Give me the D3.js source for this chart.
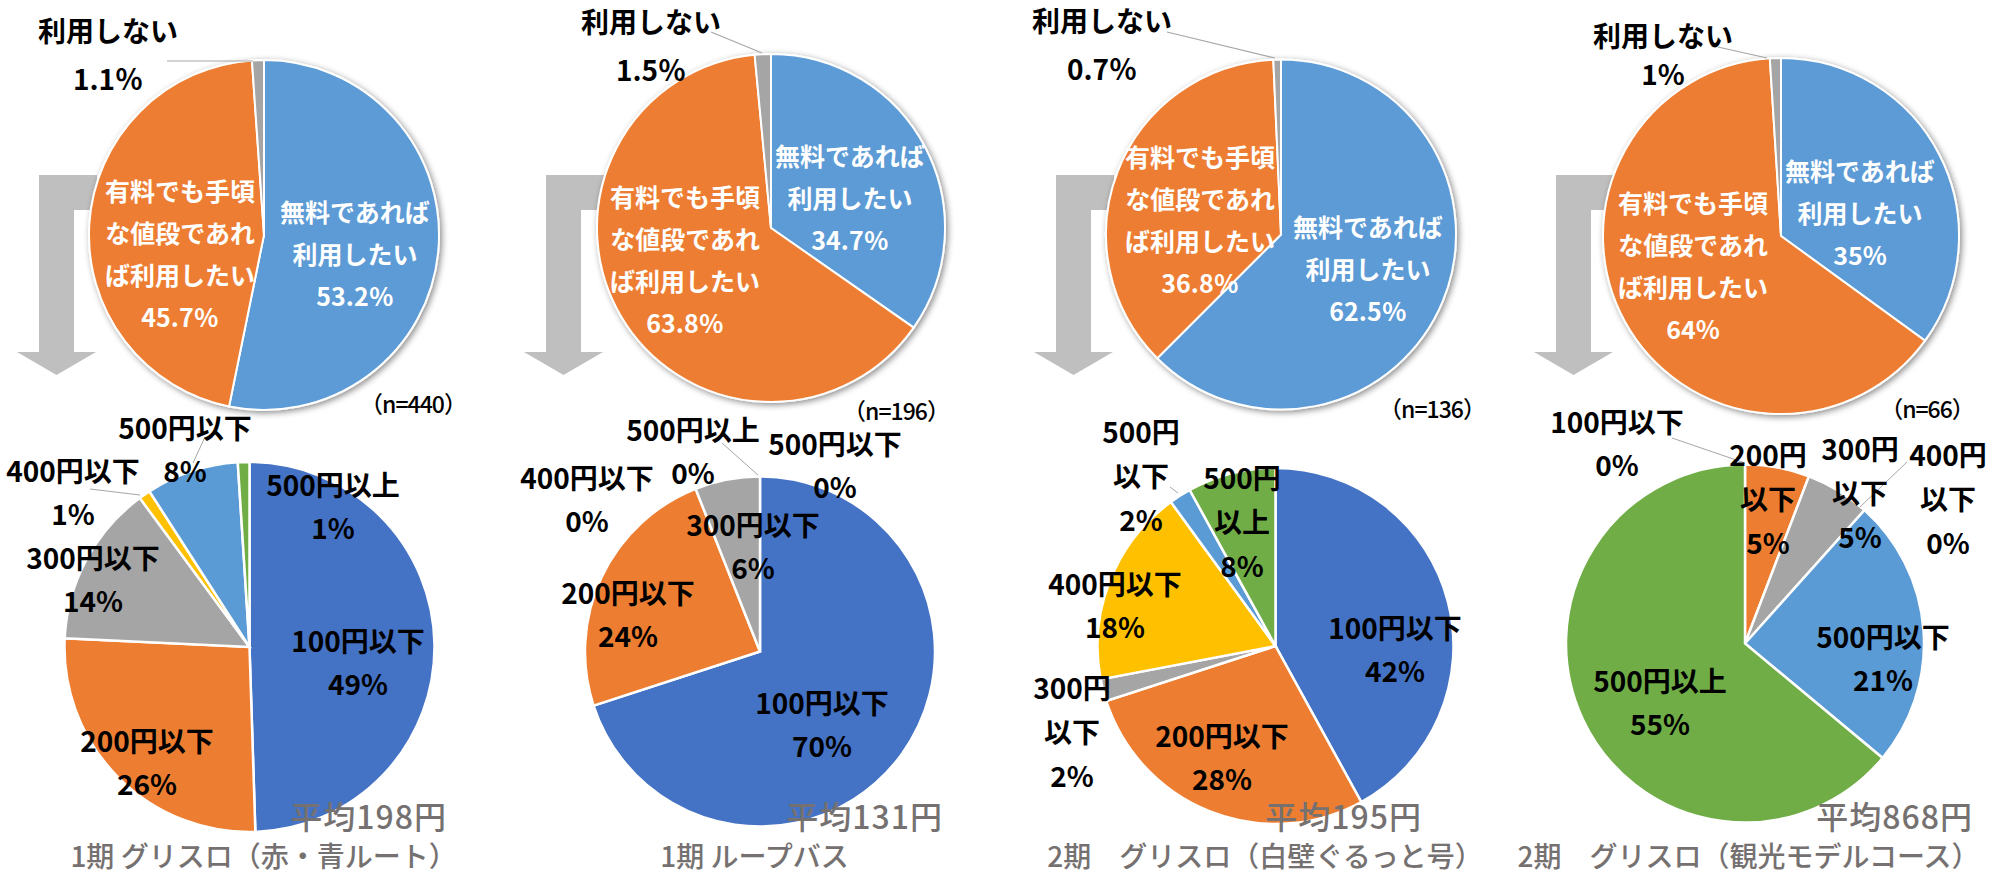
<!DOCTYPE html>
<html>
<head>
<meta charset="utf-8">
<title>グリスロ・ループバス 利用意向と支払意思額</title>
<script src="https://cdnjs.cloudflare.com/ajax/libs/d3/7.8.5/d3.min.js"></script>
<style>
body { margin: 0; background: #fff; }
text { font-family: "Noto Sans CJK JP", "Noto Sans", sans-serif; }
</style>
</head>
<body>
<svg id="chart" width="2002" height="874"></svg>

<script>
// ---- data ----
var panelTitles = ["1期 グリスロ（赤・青ルート）", "1期 ループバス", "2期　グリスロ（白壁ぐるっと号）", "2期　グリスロ（観光モデルコース）"];
var averageLabels = ["平均198円", "平均131円", "平均195円", "平均868円"];
var sampleLabels = ["（n=440）", "（n=196）", "（n=136）", "（n=66）"];

// top pies: 利用意向
var usageNames = ["無料であれば利用したい", "有料でも手頃な値段であれば利用したい", "利用しない"];
var usageLines = [["無料であれば", "利用したい"], ["有料でも手頃", "な値段であれ", "ば利用したい"], ["利用しない"]];
var usageValues = [
	[53.2, 45.7, 1.1],
	[34.7, 63.8, 1.5],
	[62.5, 36.8, 0.7],
	[35, 64, 1]
];
var usageDecimals = [1, 1, 1, 0];

// bottom pies: 支払意思額
var priceNames = ["100円以下", "200円以下", "300円以下", "400円以下", "500円以下", "500円以上"];
var priceValues = [
	[49, 26, 14, 1, 8, 1],
	[70, 24, 6, 0, 0, 0],
	[42, 28, 2, 18, 2, 8],
	[0, 5, 5, 0, 21, 55]
];

var usageColors = ["#5b9bd5", "#ed7d31", "#a5a5a5"];
var priceColors = ["#4472c4", "#ed7d31", "#a5a5a5", "#ffc000", "#5b9bd5", "#70ad47"];

// ---- layout (pie centres, label offsets from centre) ----
var pieTop = [{x: 264, y: 235, r: 175}, {x: 771, y: 228, r: 174}, {x: 1281, y: 234.5, r: 175}, {x: 1781, y: 236, r: 178}];
var pieBottom = [{x: 249.5, y: 647, r: 185}, {x: 760, y: 651.5, r: 175}, {x: 1275.5, y: 646, r: 178}, {x: 1745, y: 643.5, r: 179}];

var topLabelPos = [
	{blue: [91, 18], orange: [-84, 18], gray: [-156, -181], lh: 48, leader: [-97, -174, -11, -174], n: [149, 168]},
	{blue: [79, -31], orange: [-86, 31], gray: [-120, -183], lh: 48, leader: [-60, -196, -9, -175], n: [125, 182]},
	{blue: [87, 33.5], orange: [-81, -16], gray: [-179, -191], lh: 48, leader: [-114, -202.5, -6, -176.5], n: [151, 173.5]},
	{blue: [79, -24.5], orange: [-88, 28.5], gray: [-118, -182], lh: 38, leader: [-63, -189, -14, -178], n: [146, 172]}
];

// [dx, dy, wrap]
var bottomLabelPos = [
	[[108.5, 14.5, 0], [-102.5, 114.5, 0], [-156.5, -68.5, 0], [-176.5, -155.5, 0], [-64.5, -198.5, 0], [83.5, -142, 0]],
	[[62, 71.5, 0], [-132, -38.5, 0], [-7, -106.5, 0], [-173, -153.5, 0], [75, -187.5, 0], [-67, -201.5, 0]],
	[[119.5, 2, 0], [-53.5, 110, 0], [-203.5, 85, 1], [-160.5, -42, 0], [-134.5, -171, 1], [-33.5, -125, 1]],
	[[-128, -201, 0], [23, -145.5, 1], [115, -151.5, 1], [203, -145.5, 1], [138, 13.5, 0], [-85, 57.5, 0]]
];
var bottomLeaders = [
	[[-44.5, -210, -56.5, -184], [-159.5, -158, -109.5, -152]],
	[[-38, -208.5, -2, -176.5]],
	[[-105.5, -159, -97.5, -153]],
	[[-73, -205.5, 0, -180.5], [162, -181.5, 115, -136.5]]
];
var averagePos = [[197.5, 168], [183, 163.5], [146.5, 169], [228, 171.5]];
var titlePos = [[14, 208], [-5.5, 203.5], [-10.5, 209], [3.5, 211.5]];

// L-shaped arrow, x relative to bar left, absolute y
var arrowDx = -225;
var arrowPoints = [[0, 175], [58, 175], [58, 210], [35, 210], [35, 352], [57, 352], [17.5, 375], [-22, 352], [0, 352]];

var svg = d3.select("#chart");

var defs = svg.append("defs");
var f = defs.append("filter").attr("id", "shadow")
	.attr("x", "-10%").attr("y", "-10%").attr("width", "120%").attr("height", "120%");
f.append("feDropShadow").attr("dx", 2).attr("dy", 2).attr("stdDeviation", 3)
	.attr("flood-color", "#000").attr("flood-opacity", 0.45);

var pie = d3.pie().sort(null).value(function (d) { return d; });

function addLines(g, lines, x, y, lh, size, color) {
	var y0 = y - (lines.length - 1) * lh / 2;
	lines.forEach(function (t, k) {
		g.append("text")
			.attr("x", x)
			.attr("y", y0 + k * lh)
			.attr("text-anchor", "middle")
			.attr("dominant-baseline", "central")
			.attr("font-size", size)
			.attr("font-weight", "bold")
			.attr("fill", color)
			.text(t);
	});
}

panelTitles.forEach(function (title, i) {
	var T = pieTop[i], B = pieBottom[i];
	var tp = topLabelPos[i];

	// arrow
	var ax = T.x + arrowDx;
	svg.append("polygon")
		.attr("points", arrowPoints.map(function (p) { return (ax + p[0]) + "," + p[1]; }).join(" "))
		.attr("fill", "#bfbfbf");

	// top pie
	var gt = svg.append("g").attr("transform", "translate(" + T.x + "," + T.y + ")");
	var arcT = d3.arc().innerRadius(0).outerRadius(T.r);
	gt.append("g").attr("filter", "url(#shadow)")
		.selectAll("path")
		.data(pie(usageValues[i]))
		.enter().append("path")
		.attr("d", arcT)
		.attr("fill", function (d, j) { return usageColors[j]; })
		.attr("stroke", "#fff")
		.attr("stroke-width", 2);

	var pct = usageValues[i].map(function (v) {
		return usageDecimals[i] ? v.toFixed(1) + "％" : v + "%";
	});
	addLines(gt, usageLines[0].concat([pct[0]]), tp.blue[0], tp.blue[1], 42, 25, "#fff");
	addLines(gt, usageLines[1].concat([pct[1]]), tp.orange[0], tp.orange[1], 42, 25, "#fff");
	addLines(gt, usageLines[2].concat([pct[2]]), tp.gray[0], tp.gray[1], tp.lh, 28, "#000");
	gt.append("line")
		.attr("x1", tp.leader[0]).attr("y1", tp.leader[1])
		.attr("x2", tp.leader[2]).attr("y2", tp.leader[3])
		.attr("stroke", "#a6a6a6").attr("stroke-width", 1.2);
	gt.append("text")
		.attr("x", tp.n[0]).attr("y", tp.n[1])
		.attr("text-anchor", "middle")
		.attr("dominant-baseline", "central")
		.attr("font-size", 23)
		.attr("letter-spacing", -1)
		.attr("font-weight", 500)
		.attr("fill", "#000")
		.text(sampleLabels[i]);

	// bottom pie
	var gb = svg.append("g").attr("transform", "translate(" + B.x + "," + B.y + ")");
	var arcB = d3.arc().innerRadius(0).outerRadius(B.r);
	gb.selectAll("path")
		.data(pie(priceValues[i]).filter(function (d) { return d.value > 0; }))
		.enter().append("path")
		.attr("d", arcB)
		.attr("fill", function (d) { return priceColors[d.index]; })
		.attr("stroke", "#fff")
		.attr("stroke-width", 2.5);

	bottomLeaders[i].forEach(function (l) {
		gb.append("line")
			.attr("x1", l[0]).attr("y1", l[1]).attr("x2", l[2]).attr("y2", l[3])
			.attr("stroke", "#a6a6a6").attr("stroke-width", 1);
	});

	priceNames.forEach(function (name, j) {
		var p = bottomLabelPos[i][j];
		var lines = p[2] ? [name.slice(0, 4), name.slice(4)] : [name];
		lines.push(priceValues[i][j] + "%");
		addLines(gb, lines, p[0], p[1], p[2] ? 44 : 43, 28, "#000");
	});

	gb.append("text")
		.attr("x", averagePos[i][0]).attr("y", averagePos[i][1])
		.attr("text-anchor", "end")
		.attr("dominant-baseline", "central")
		.attr("font-size", 32)
		.attr("letter-spacing", 1)
		.attr("font-weight", 500)
		.attr("fill", "#767171")
		.text(averageLabels[i]);

	gb.append("text")
		.attr("x", titlePos[i][0]).attr("y", titlePos[i][1])
		.attr("text-anchor", "middle")
		.attr("dominant-baseline", "central")
		.attr("font-size", 28)
		.attr("font-weight", 500)
		.attr("fill", "#767171")
		.text(title);
});
</script>
</body>
</html>
